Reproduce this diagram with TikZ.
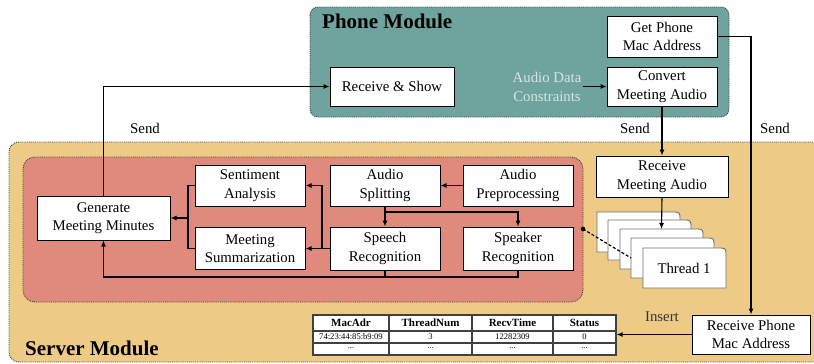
\documentclass[tikz,border=0pt]{standalone}
\usepackage{fontspec}
\setmainfont{Liberation Serif}
\usetikzlibrary{arrows.meta}
\definecolor{phoneteal}{HTML}{6FA39D}
\definecolor{serveryellow}{HTML}{EDCB86}
\definecolor{procred}{HTML}{E08A7D}
\definecolor{paletext}{HTML}{D5E6E3}
\definecolor{cardgray}{HTML}{707070}
\newcommand\threadcard[3]{%
  \draw[card] (#1,#2+40) -- (#1,#2) -- (#1+75,#2)
    .. controls (#1+83,#2) .. (#1+83,#2+8) -- (#1+83,#2+40) -- cycle;
  \coordinate (#3top) at (#1+41.5,#2);
  \coordinate (#3west) at (#1,#2+20);}
\begin{document}
\begin{tikzpicture}[x=1pt,y=-1pt,
  box/.style={draw=black, line width=1pt, fill=white, align=center, inner sep=0pt,
    font=\fontsize{14.8}{18.5}\selectfont},
  arr/.style={line width=1.1pt, -{Latex[length=6pt,width=5pt]}},
  wire/.style={line width=1.1pt},
  module/.style={draw=black!75, line width=0.9pt, densely dotted},
  lbl/.style={font=\fontsize{14.8}{18.5}\selectfont, inner sep=1pt, align=center},
  title/.style={font=\fontsize{21}{24}\bfseries\selectfont, anchor=west, inner sep=0pt},
  card/.style={draw=cardgray, line width=0.9pt, fill=white},
  thead/.style={font=\fontsize{11}{12}\bfseries\selectfont, inner sep=0pt},
  tcell/.style={font=\fontsize{8.6}{10}\selectfont, inner sep=0pt},
  tline/.style={draw=black!75, line width=1.3pt}]

\useasboundingbox (0,0) rectangle (814,364);
\fill[white] (0,0) rectangle (814,364);
\clip (0,0) rectangle (814,364);

% containers
\filldraw[module, fill=phoneteal, rounded corners=8pt] (310,7) rectangle (729,117);
\filldraw[module, fill=serveryellow, rounded corners=10pt] (9,142) rectangle (840,362);
\filldraw[module, fill=procred, rounded corners=12pt] (23,157) rectangle (583,302);

\node[title] (phonetitle) at (322,21) {Phone Module};
\node[title] (servertitle) at (25,348) {Server Module};

% phone module
\node[box, minimum width=110pt, minimum height=41pt] (getmac) at (662,36.5) {Get Phone\\Mac Address};
\node[box, minimum width=124pt, minimum height=39pt] (recvshow) at (392,86.5) {Receive \& Show};
\node[box, minimum width=110pt, minimum height=39pt] (convert) at (662,86.5) {Convert\\Meeting Audio};
\node[lbl, text=paletext] (constraints) at (547,87) {Audio Data\\Constraints};

% processing pipeline
\node[box, minimum width=133pt, minimum height=44pt] (gen) at (103.5,218) {Generate\\Meeting Minutes};
\node[box, minimum width=110pt, minimum height=41pt] (senti) at (250,185.5) {Sentiment\\Analysis};
\node[box, minimum width=110pt, minimum height=42pt] (summ) at (250,248.5) {Meeting\\Summarization};
\node[box, minimum width=110pt, minimum height=41pt] (split) at (385,185.5) {Audio\\Splitting};
\node[box, minimum width=110pt, minimum height=41pt] (prep) at (518,185.5) {Audio\\Preprocessing};
\node[box, minimum width=110pt, minimum height=43pt] (speech) at (385,248.5) {Speech\\Recognition};
\node[box, minimum width=110pt, minimum height=43pt] (speaker) at (518,248.5) {Speaker\\Recognition};

% server side receivers
\node[box, minimum width=132pt, minimum height=41pt] (recvaudio) at (662,176.5) {Receive\\Meeting Audio};
\node[box, minimum width=118pt, minimum height=39pt] (recvmac) at (751,334.5) {Receive Phone\\Mac Address};

% thread stack
\threadcard{597}{212}{cardA}
\threadcard{608}{220}{cardB}
\threadcard{620}{229}{cardC}
\threadcard{631}{238}{cardD}
\threadcard{643}{248}{cardE}
\node[lbl] (thread1) at (684,268) {Thread 1};

% table of phone connections
\node[draw=black!75, line width=1.3pt, fill=white, minimum width=303pt, minimum height=40pt, inner sep=0pt] (table) at (464.5,335) {};
\draw[tline] (313,331) -- (616,331);
\draw[tline] (313,343) -- (616,343);
\draw[tline] (389,315) -- (389,355);
\draw[tline] (472,315) -- (472,355);
\draw[tline] (553,315) -- (553,355);
\node[thead] (hmac) at (351,323) {MacAdr};
\node[thead] (hthread) at (430.5,323) {ThreadNum};
\node[thead] (htime) at (512.5,323) {RecvTime};
\node[thead] (hstatus) at (584.5,323) {Status};
\node[tcell] (vmac) at (351,337) {74:23:44:85:b9:09};
\node[tcell] (vthread) at (430.5,337) {3};
\node[tcell] (vtime) at (512.5,337) {12282309};
\node[tcell] (vstatus) at (584.5,337) {0};
\node[tcell] (emac) at (351,348.5) {...};
\node[tcell] (ethread) at (430.5,348.5) {...};
\node[tcell] (etime) at (512.5,348.5) {...};
\node[tcell] (estatus) at (584.5,348.5) {...};

% bus coordinates
\coordinate (busS) at (0,212);
\coordinate (busB) at (0,277);
\coordinate (busV) at (322,0);
\coordinate (busG) at (188,0);
\coordinate (linkdot) at (583,229);

% connectors: phone module
\draw[arr] (constraints.east |- convert.west) -- (convert.west);
\draw[arr] (convert.south) -- (recvaudio.north);
\draw[arr] (getmac.east) -| (recvmac.north);
\draw[arr] (gen.north) |- (recvshow.west);

% connectors: pipeline
\draw[arr] (prep.west) -- (split.east);
\draw[wire] (split.south) -- (split.south |- busS);
\draw[arr] (split.south |- busS) -- (speech.north);
\draw[arr] (split.south |- busS) -| (speaker.north);
\draw[arr] (speech.west) -- (summ.east);
\draw[arr] (busV |- speech.west) |- (senti.east);
\draw[wire] (senti.west) -- (senti.west -| busG) -- (summ.west -| busG) -- (summ.west);
\draw[arr] (busG |- gen.east) -- (gen.east);
\draw[wire] (speech.south) -- (speech.south |- busB);
\draw[arr] (speaker.south) -- (speaker.south |- busB) -| (gen.south);

% connectors: server side
\draw[arr] (recvaudio.south) -- (cardCtop);
\draw[line width=1.2pt, dash pattern=on 3pt off 2pt] (linkdot) -- (cardDwest);
\fill (linkdot) circle (2.3pt);
\draw[arr] (recvmac.west) -- (recvmac.west -| table.east);

% labels
\node[lbl] (send1) at (145,128) {Send};
\node[lbl] (send2) at (635,128) {Send};
\node[lbl] (send3) at (775,128) {Send};
\node[lbl, text=black!80] (insert) at (662,317) {Insert};
\end{tikzpicture}
\end{document}
